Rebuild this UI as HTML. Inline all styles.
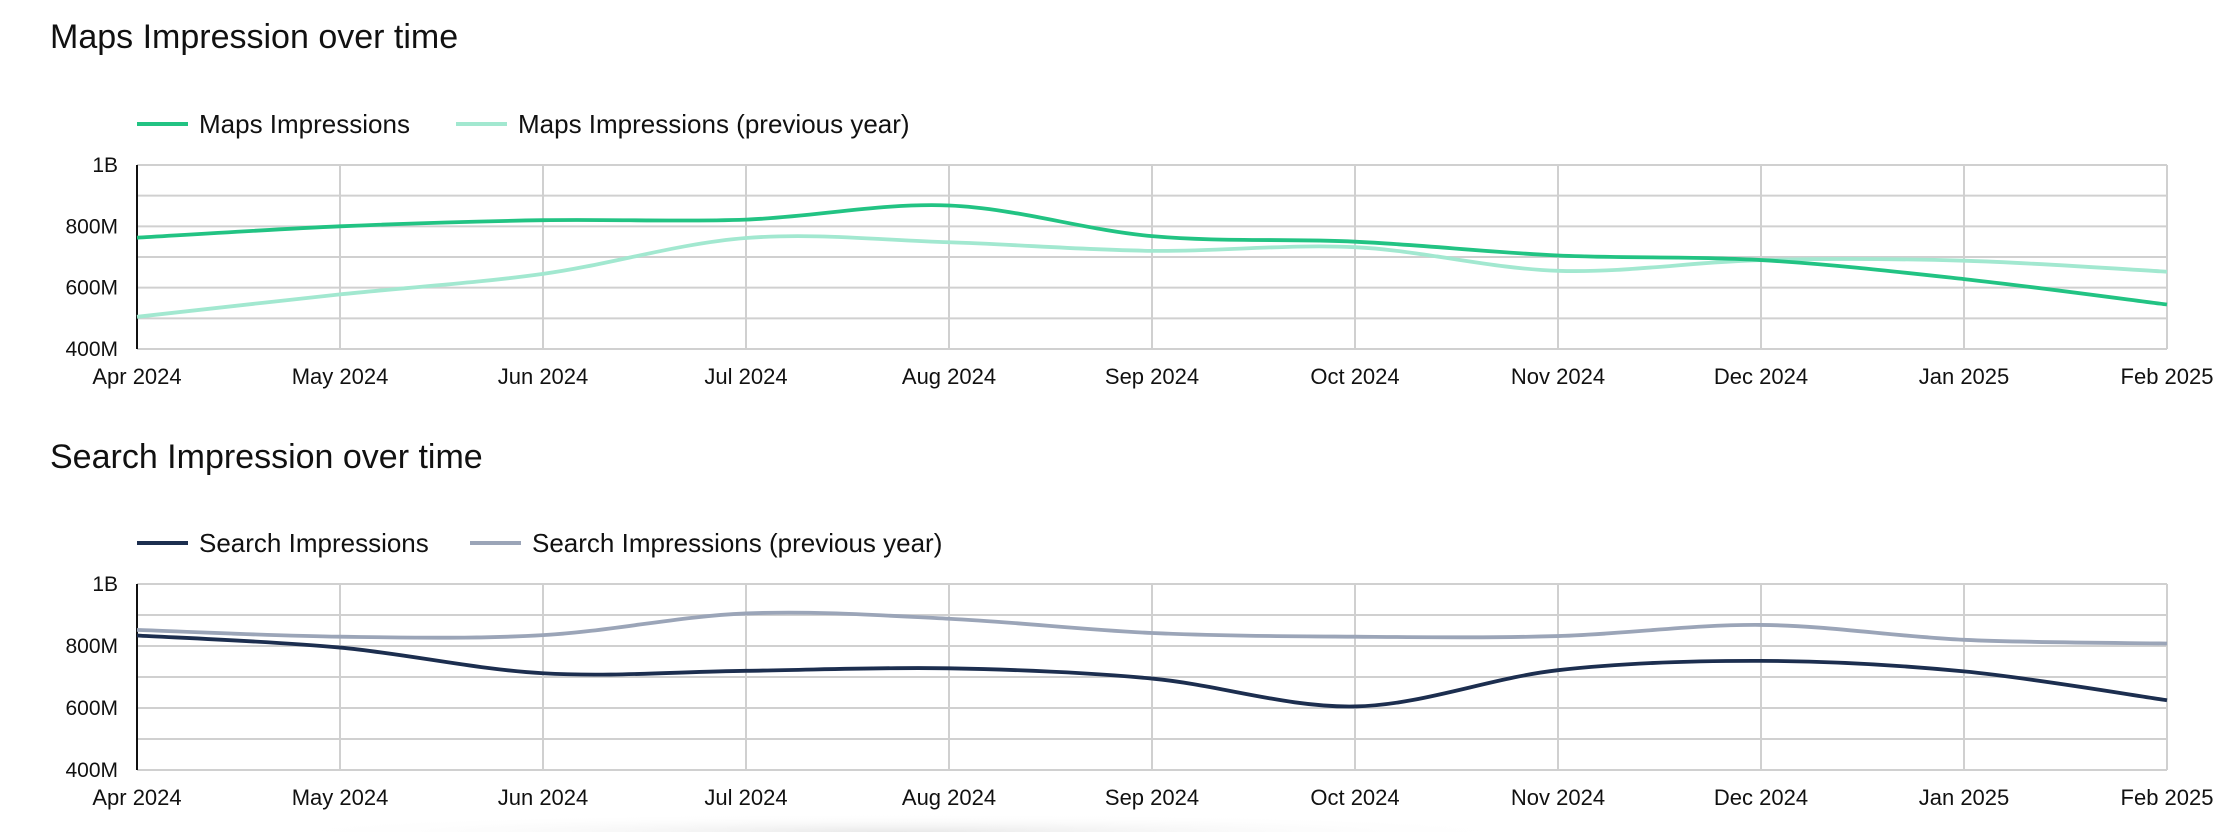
<!DOCTYPE html>
<html><head><meta charset="utf-8"><style>
html,body{margin:0;padding:0;background:#fff;}
body{width:2235px;height:832px;overflow:hidden;position:relative;font-family:"Liberation Sans",sans-serif;}
svg{display:block;overflow:hidden;}
</style></head><body>
<svg id="s" width="2235" height="832" xmlns="http://www.w3.org/2000/svg" font-family="Liberation Sans, sans-serif">
<defs><radialGradient id="g" cx="0.5" cy="1" r="0.5" gradientTransform="translate(0,0)"><stop offset="0" stop-color="#e8e8e8"/><stop offset="1" stop-color="#fff" stop-opacity="0"/></radialGradient></defs>
<rect x="250" y="795" width="1300" height="37" fill="url(#g)"/>
<text x="50" y="48" font-size="34" fill="#111">Maps Impression over time</text>
<text x="50" y="468" font-size="34" fill="#111">Search Impression over time</text>
</svg>
<script>
const s=document.getElementById('s');const NS='http://www.w3.org/2000/svg';
function el(t,a,txt){const e=document.createElementNS(NS,t);for(const k in a)e.setAttribute(k,a[k]);if(txt)e.textContent=txt;s.appendChild(e);return e;}
const months=['Apr 2024','May 2024','Jun 2024','Jul 2024','Aug 2024','Sep 2024','Oct 2024','Nov 2024','Dec 2024','Jan 2025','Feb 2025'];
const L=137,R=2167,dx=(R-L)/10;
function chart(top,bot,legY,series,leg2x){
  const yv=v=>bot-(v-400)/600*(bot-top);
  for(let i=0;i<=6;i++){const y=top+i*(bot-top)/6;el('line',{x1:L,x2:R,y1:y,y2:y,stroke:'#d0d0d0','stroke-width':2});}
  for(let i=1;i<=10;i++){const x=L+i*dx;el('line',{x1:x,x2:x,y1:top,y2:bot,stroke:'#d0d0d0','stroke-width':2});}
  el('line',{x1:L,x2:L,y1:top,y2:bot,stroke:'#111','stroke-width':2});
  [['1B',1000],['800M',800],['600M',600],['400M',400]].forEach(([t,v])=>el('text',{x:118,y:yv(v)+7,'font-size':21,'text-anchor':'end',fill:'#111'},t));
  months.forEach((m,i)=>el('text',{x:L+i*dx,y:bot+35,'font-size':22,'text-anchor':'middle',fill:'#111'},m));
  series.slice().reverse().forEach(sr=>{
    const p=sr.d.map((v,i)=>[L+i*dx,yv(v)]);
    let d='M'+p[0][0]+','+p[0][1];
    for(let i=0;i<p.length-1;i++){
      const p0=p[Math.max(0,i-1)],p1=p[i],p2=p[i+1],p3=p[Math.min(p.length-1,i+2)];
      const k=6;
      d+=' C'+(p1[0]+(p2[0]-p0[0])/k)+','+(p1[1]+(p2[1]-p0[1])/k)+' '+(p2[0]-(p3[0]-p1[0])/k)+','+(p2[1]-(p3[1]-p1[1])/k)+' '+p2[0]+','+p2[1];
    }
    el('path',{d:d,fill:'none',stroke:sr.c,'stroke-width':3.8});
  });
  el('line',{x1:137,x2:188,y1:legY,y2:legY,stroke:series[0].c,'stroke-width':4});
  el('text',{x:199,y:legY+9,'font-size':26,fill:'#111'},series[0].n);
  el('line',{x1:leg2x,x2:leg2x+51,y1:legY,y2:legY,stroke:series[1].c,'stroke-width':4});
  el('text',{x:leg2x+62,y:legY+9,'font-size':26,fill:'#111'},series[1].n);
}
chart(165,349,124,[
 {n:'Maps Impressions',c:'#22c383',d:[763,800,820,822,868,768,750,705,690,628,545]},
 {n:'Maps Impressions (previous year)',c:'#a2e8d0',d:[505,578,645,762,748,720,732,655,690,688,652]}],456);
chart(584,770,543,[
 {n:'Search Impressions',c:'#1c2e4f',d:[834,795,712,720,728,695,605,722,752,718,625]},
 {n:'Search Impressions (previous year)',c:'#9ba5b8',d:[852,830,835,905,888,842,830,832,868,820,808]}],470);
</script>
</body></html>
